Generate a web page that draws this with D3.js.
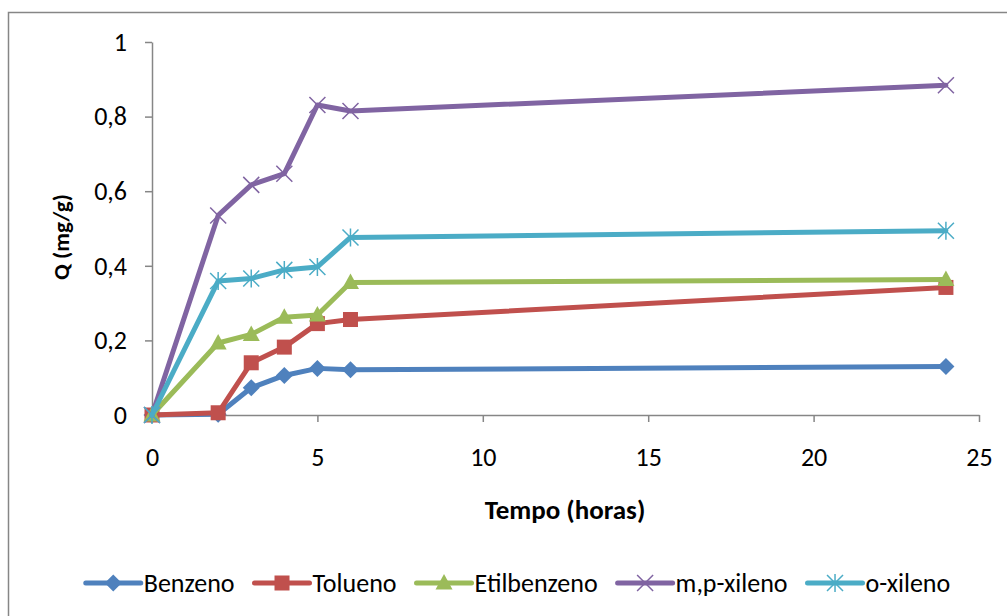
<!DOCTYPE html>
<html lang="pt">
<head>
<meta charset="UTF-8">
<title>Q vs tempo</title>
<script src="https://cdn.jsdelivr.net/npm/d3@7"></script>
<style>
  body{ margin:0; background:#fff; }
  svg{ display:block; font-family: Carlito, Lato, "Open Sans", sans-serif; }
  .axis path, .axis line{ stroke:#868686; stroke-width:1.5px; }
  .axis text{ font-family: Carlito, Lato, "Open Sans", sans-serif; font-size:26px; fill:#000; }
  .ttl{ font-weight:bold; fill:#000; }
  .leg text{ font-size:26px; fill:#000; }
</style>
</head>
<body>
<div id="chart"></div>
<script>
// tempo (horas)
const hours = [0, 2, 3, 4, 5, 6, 24];
// Q (mg/g) per compound
const benzeno     = [0, 0.002, 0.073, 0.106, 0.125, 0.121, 0.130];
const tolueno     = [0, 0.006, 0.140, 0.182, 0.245, 0.256, 0.342];
const etilbenzeno = [0, 0.193, 0.216, 0.262, 0.268, 0.355, 0.363];
const mpXileno    = [0, 0.535, 0.617, 0.647, 0.831, 0.815, 0.884];
const oXileno     = [0, 0.359, 0.366, 0.389, 0.397, 0.476, 0.494];

const seriesNames = ["Benzeno", "Tolueno", "Etilbenzeno", "m,p-xileno", "o-xileno"];
const seriesValues = [benzeno, tolueno, etilbenzeno, mpXileno, oXileno];
const colors = ["#4F81BD", "#C0504D", "#9BBB59", "#8064A2", "#4BACC6"];
const markers = ["diamond", "square", "triangle", "x", "star"];

const xTicks = [0, 5, 10, 15, 20, 25];
const yTicks = [0, 0.2, 0.4, 0.6, 0.8, 1];

const W = 1007, H = 616;
const svg = d3.select("#chart").append("svg").attr("width", W).attr("height", H);

// chart frame
svg.append("rect").attr("x", 8.5).attr("y", 12.5).attr("width", 1010).attr("height", 620)
  .attr("fill", "#fff").attr("stroke", "#868686").attr("stroke-width", 1.5);

const x = d3.scaleLinear().domain([0, 25]).range([152, 979]);
const y = d3.scaleLinear().domain([0, 1]).range([415, 42]);

const fmt = d => String(d).replace(".", ",");

svg.append("g").attr("class", "axis")
  .attr("transform", "translate(152,0)")
  .call(d3.axisLeft(y).tickValues(yTicks).tickFormat(fmt).tickSize(7).tickPadding(18).tickSizeOuter(0));

svg.append("g").attr("class", "axis")
  .attr("transform", "translate(0,415)")
  .call(d3.axisBottom(x).tickValues(xTicks).tickFormat(fmt).tickSize(7).tickSizeOuter(0))
  .selectAll("text").attr("dy", "0.35em").attr("y", 42);

svg.append("text").attr("class", "ttl").style("font-size", "27px")
  .attr("x", 565).attr("y", 519).attr("text-anchor", "middle").text("Tempo (horas)");

svg.append("text").attr("class", "ttl").style("font-size", "23px")
  .attr("transform", "translate(69,237) rotate(-90)")
  .attr("text-anchor", "middle").text("Q (mg/g)");

function drawMarker(g, type, color) {
  if (type === "diamond") {
    g.append("path").attr("d", "M0,-8.5L8.5,0L0,8.5L-8.5,0Z").attr("fill", color);
  } else if (type === "square") {
    g.append("rect").attr("x", -7.5).attr("y", -7.5).attr("width", 15).attr("height", 15).attr("fill", color);
  } else if (type === "triangle") {
    g.append("path").attr("d", "M0,-9L8.5,6.5L-8.5,6.5Z").attr("fill", color);
  } else if (type === "x") {
    g.append("path").attr("d", "M-8,-8L8,8M8,-8L-8,8").attr("stroke", color).attr("stroke-width", 1.5).attr("fill", "none");
  } else if (type === "star") {
    g.append("path").attr("d", "M-8,-8L8,8M8,-8L-8,8M0,-9L0,9").attr("stroke", color).attr("stroke-width", 1.5).attr("fill", "none");
  }
}

const line = d3.line().x(d => x(d[0])).y(d => y(d[1]));

seriesValues.forEach((vals, i) => {
  const pts = hours.map((h, k) => [h, vals[k]]);
  const g = svg.append("g");
  g.append("path").attr("d", line(pts)).attr("fill", "none")
    .attr("stroke", colors[i]).attr("stroke-width", 5).attr("stroke-linejoin", "round").attr("stroke-linecap", "round");
  pts.forEach(p => {
    drawMarker(g.append("g").attr("transform", `translate(${x(p[0])},${y(p[1])})`), markers[i], colors[i]);
  });
});

// legend
const leg = svg.append("g").attr("class", "leg");
const legY = 583;
let cx = 0;
const items = [];
seriesNames.forEach((name, i) => {
  const it = leg.append("g");
  it.append("line").attr("x1", 0).attr("x2", 55).attr("y1", 0).attr("y2", 0)
    .attr("stroke", colors[i]).attr("stroke-width", 5).attr("stroke-linecap", "round");
  drawMarker(it.append("g").attr("transform", "translate(27.5,0)"), markers[i], colors[i]);
  const t = it.append("text").attr("x", 58).attr("dy", "0.35em").text(name);
  const w = 58 + t.node().getComputedTextLength();
  items.push({ it, x: cx });
  cx += w + 20;
});
const total = cx - 20;
const startX = 518 - total / 2;
items.forEach(d => d.it.attr("transform", `translate(${startX + d.x},${legY})`));
</script>
</body>
</html>
